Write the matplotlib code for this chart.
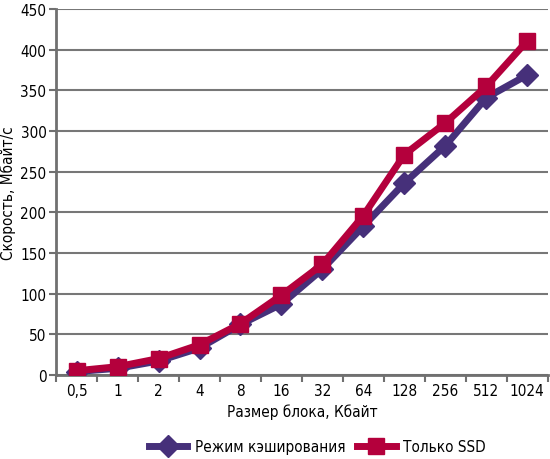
import matplotlib
matplotlib.use("Agg")
import matplotlib.pyplot as plt
from matplotlib.ticker import FixedLocator
import numpy as np

categories = ["0,5", "1", "2", "4", "8", "16", "32", "64", "128", "256", "512", "1024"]
cache_mode = [4, 8, 17, 33, 62, 87, 130, 183, 236, 282, 341, 369]
ssd_only = [5, 10, 20, 37, 63, 98, 136, 196, 271, 310, 355, 411]
yticks = [0, 50, 100, 150, 200, 250, 300, 350, 400, 450]

plt.rcParams['font.family'] = ['DejaVu Sans']
plt.rcParams['font.stretch'] = 'condensed'

fig = plt.figure(figsize=(5.5, 4.6), dpi=100)
ax = fig.add_axes([0.102, 0.183, 0.894, 0.795])

x = np.arange(len(categories))
purple = '#46307a'
red = '#b4003c'
ax.plot(x, cache_mode, color=purple, lw=5, marker='D', ms=11, mec=purple, mfc=purple,
        label='Режим кэширования', zorder=3)
ax.plot(x, ssd_only, color=red, lw=5, marker='s', ms=12, mec=red, mfc=red,
        label='Только SSD', zorder=4)

ax.set_xlim(-0.5, len(categories) - 0.5)
ax.set_ylim(0, 450)
ax.set_yticks(yticks)
ax.set_xticks(x)
ax.set_xticklabels(categories)
ax.xaxis.set_minor_locator(FixedLocator(np.arange(-0.5, len(categories), 1.0)))
ax.tick_params(axis='x', which='major', length=0, pad=6, labelsize=11)
ax.tick_params(axis='x', which='minor', length=5, width=1.5, color='#707070')
ax.tick_params(axis='y', length=5, width=1.5, color='#707070', labelsize=11, pad=2)

ax.yaxis.grid(True, color='#777777', lw=1.5)
ax.set_axisbelow(True)
for s in ['top', 'right']:
    ax.spines[s].set_visible(False)
for s in ['left', 'bottom']:
    ax.spines[s].set_color('#707070')
    ax.spines[s].set_linewidth(2)

ax.set_xlabel('Размер блока, Кбайт', fontsize=11, labelpad=4)
ax.set_ylabel('Скорость, Мбайт/с', fontsize=11, labelpad=3)

fig.legend(loc='center', bbox_to_anchor=(0.577, 0.027), ncol=2, frameon=False,
           fontsize=11, handlelength=2.5, columnspacing=0.8, handletextpad=0.5)

fig.savefig('out.png', dpi=100)
